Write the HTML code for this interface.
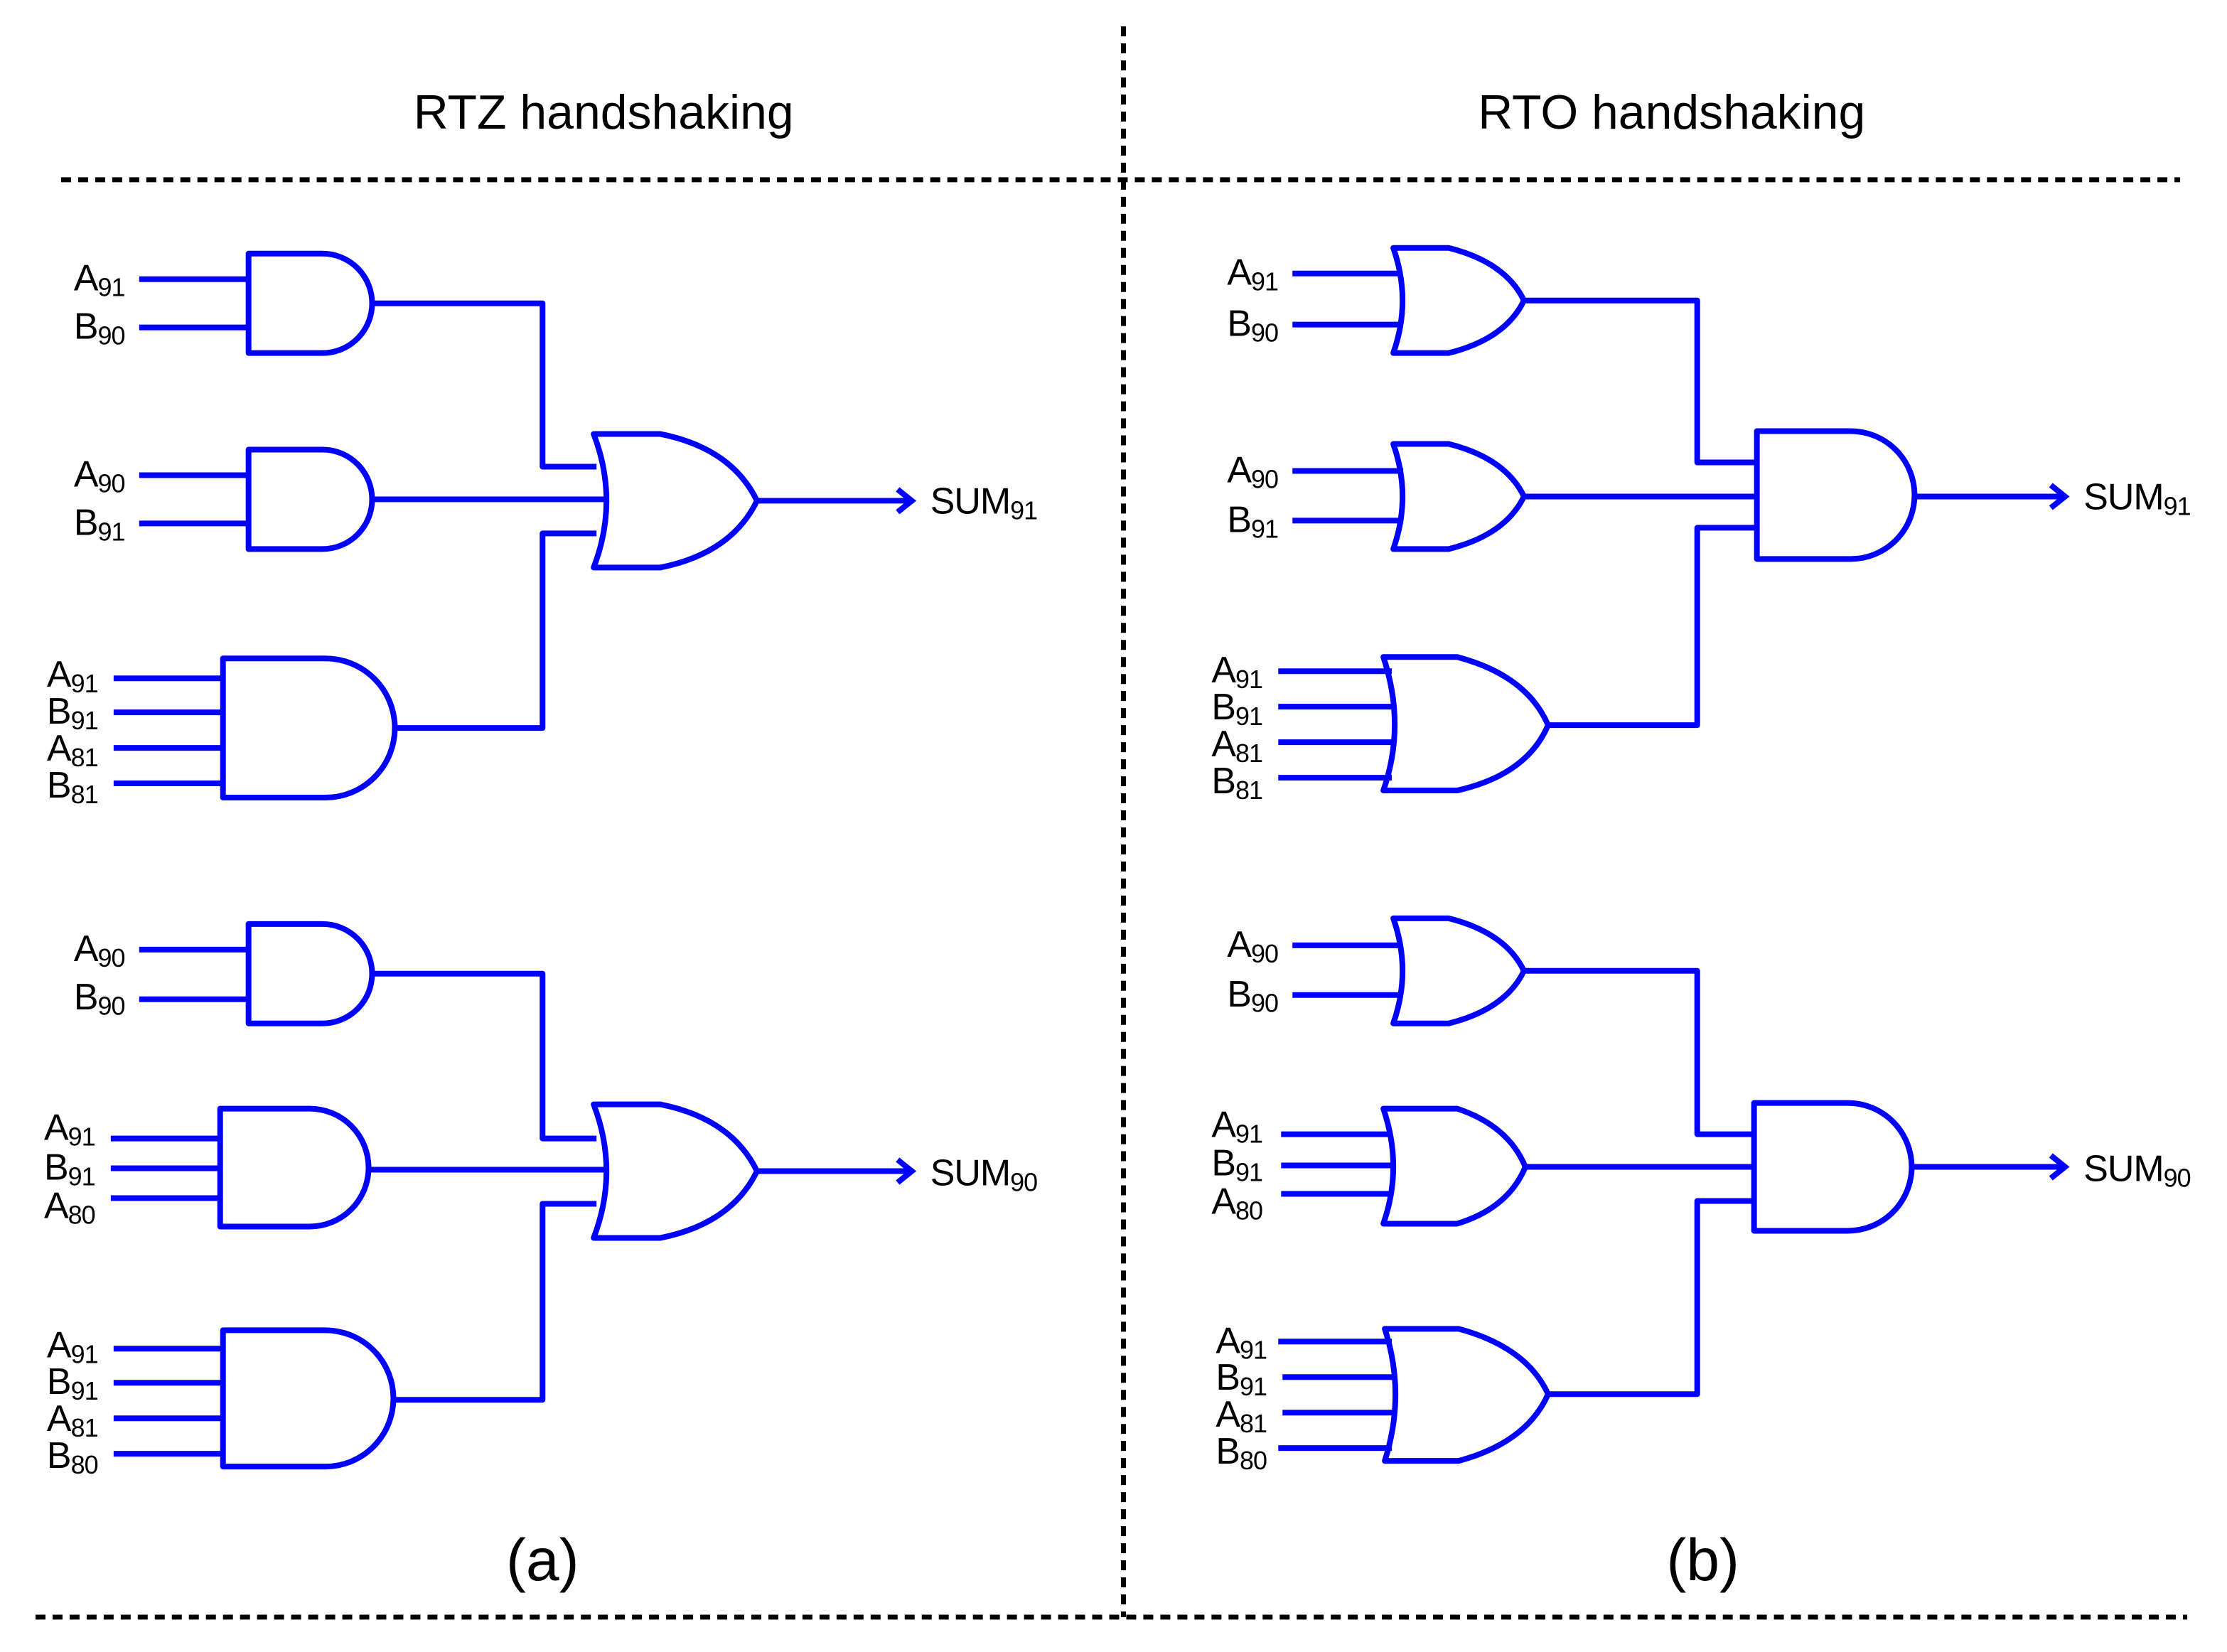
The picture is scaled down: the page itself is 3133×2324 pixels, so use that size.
<!DOCTYPE html>
<html><head><meta charset="utf-8"><style>
html,body{margin:0;padding:0;background:#fff;}
svg{display:block;}
text{font-family:"Liberation Sans",sans-serif;fill:#000;}
</style></head><body>
<svg width="3133" height="2324" viewBox="0 0 1568 1162" xmlns="http://www.w3.org/2000/svg">
<defs>
<marker id="ar" markerWidth="16" markerHeight="20" refX="12" refY="10" orient="auto" markerUnits="userSpaceOnUse">
<path d="M2,2 L12,10 L2,18" fill="none" stroke="#0000ff" stroke-width="4"/>
</marker>
</defs>
<g stroke="#000" stroke-width="3.5" stroke-dasharray="7,5" fill="none">
<line x1="791" y1="18" x2="791" y2="1138"/>
<line x1="43" y1="126" x2="1535" y2="126"/>
<line x1="25" y1="1138" x2="1540" y2="1138"/>
</g>
<text x="425" y="90" font-size="34" text-anchor="middle">RTZ handshaking</text>
<text x="1177" y="90" font-size="34" text-anchor="middle">RTO handshaking</text>
<text x="382" y="1112" font-size="42" text-anchor="middle">(a)</text>
<text x="1199" y="1112" font-size="42" text-anchor="middle">(b)</text>

<g stroke="#0000ff" stroke-width="4" fill="none" stroke-linejoin="round">
<path d="M175 178 H227 A35 35 0 0 1 227 248 H175 Z"/>
<path d="M98 196 H175 M98 230 H175"/>
<path d="M262 213 H382 V328 H420"/>
<path d="M175 316 H227 A35 35 0 0 1 227 386 H175 Z"/>
<path d="M98 334 H175 M98 368 H175"/>
<path d="M262 351 H427"/>
<path d="M157 463 H229 A49 49 0 0 1 229 561 H157 Z"/>
<path d="M80 477 H157 M80 501 H157 M80 526 H157 M80 551 H157"/>
<path d="M278 512 H382 V375 H420"/>
<path d="M418 305 H465 Q515 315 533 352 Q515 389 465 399 H418 Q436 352 418 305 Z"/>
<path d="M533 352 H642" marker-end="url(#ar)"/>
<path d="M175 650 H227 A35 35 0 0 1 227 720 H175 Z"/>
<path d="M98 668 H175 M98 703 H175"/>
<path d="M262 685 H382 V801 H420"/>
<path d="M155 780 H218 A41.5 41.5 0 0 1 218 863 H155 Z"/>
<path d="M78 801 H155 M78 822 H155 M78 843 H155"/>
<path d="M259 823 H427"/>
<path d="M157 936 H229 A48 48 0 0 1 229 1032 H157 Z"/>
<path d="M80 949 H157 M80 973 H157 M80 998 H157 M80 1023 H157"/>
<path d="M278 985 H382 V847 H420"/>
<path d="M418 777 H465 Q515 787 533 824 Q515 861 465 871 H418 Q436 824 418 777 Z"/>
<path d="M533 824 H642" marker-end="url(#ar)"/>
<path d="M981 174 H1020 Q1060 184 1073 211 Q1060 238 1020 248 H981 Q994 211 981 174 Z"/>
<path d="M910 192 H987 M910 228 H987"/>
<path d="M1073 211 H1195 V325 H1237"/>
<path d="M981 312 H1020 Q1060 322 1073 349 Q1060 376 1020 386 H981 Q994 349 981 312 Z"/>
<path d="M910 331 H988 M910 366 H988"/>
<path d="M1073 349 H1237"/>
<path d="M974 462 H1026 Q1075 475 1090 510 Q1075 545 1026 556 H974 Q990 510 974 462 Z"/>
<path d="M900 472 H980 M900 497 H983 M900 522 H983 M900 547 H980"/>
<path d="M1090 510 H1195 V371 H1237"/>
<path d="M1237 303 H1303 A45 45 0 0 1 1303 393 H1237 Z"/>
<path d="M1348 349 H1454" marker-end="url(#ar)"/>
<path d="M981 646 H1020 Q1060 656 1073 683 Q1060 710 1020 720 H981 Q994 683 981 646 Z"/>
<path d="M910 665 H987 M910 700 H987"/>
<path d="M1073 683 H1195 V798 H1235"/>
<path d="M974 780 H1026 Q1062 792 1074 821 Q1062 850 1026 861 H974 Q988 821 974 780 Z"/>
<path d="M902 798 H980 M902 820 H982 M902 840 H980"/>
<path d="M1074 821 H1235"/>
<path d="M975 935 H1027 Q1075 948 1090 981 Q1075 1015 1027 1028 H975 Q990 981 975 935 Z"/>
<path d="M900 944 H980 M903 969 H983 M903 994 H983 M900 1019 H980"/>
<path d="M1090 981 H1195 V845 H1235"/>
<path d="M1235 776 H1301 A45 45 0 0 1 1301 866 H1235 Z"/>
<path d="M1346 821 H1454" marker-end="url(#ar)"/>
</g>

<g font-size="26" style="letter-spacing:-0.5px">
<text x="52" y="204">A<tspan font-size="18" dy="4">91</tspan></text>
<text x="52" y="238">B<tspan font-size="18" dy="4">90</tspan></text>
<text x="52" y="342">A<tspan font-size="18" dy="4">90</tspan></text>
<text x="52" y="376">B<tspan font-size="18" dy="4">91</tspan></text>
<text x="33" y="483">A<tspan font-size="18" dy="4">91</tspan></text>
<text x="33" y="509">B<tspan font-size="18" dy="4">91</tspan></text>
<text x="33" y="535">A<tspan font-size="18" dy="4">81</tspan></text>
<text x="33" y="561">B<tspan font-size="18" dy="4">81</tspan></text>
<text x="655" y="361">SUM<tspan font-size="18" dy="4">91</tspan></text>
<text x="52" y="676">A<tspan font-size="18" dy="4">90</tspan></text>
<text x="52" y="710">B<tspan font-size="18" dy="4">90</tspan></text>
<text x="31" y="802">A<tspan font-size="18" dy="4">91</tspan></text>
<text x="31" y="830">B<tspan font-size="18" dy="4">91</tspan></text>
<text x="31" y="857">A<tspan font-size="18" dy="4">80</tspan></text>
<text x="33" y="955">A<tspan font-size="18" dy="4">91</tspan></text>
<text x="33" y="981">B<tspan font-size="18" dy="4">91</tspan></text>
<text x="33" y="1007">A<tspan font-size="18" dy="4">81</tspan></text>
<text x="33" y="1033">B<tspan font-size="18" dy="4">80</tspan></text>
<text x="655" y="834">SUM<tspan font-size="18" dy="4">90</tspan></text>
<text x="864" y="200">A<tspan font-size="18" dy="4">91</tspan></text>
<text x="864" y="236">B<tspan font-size="18" dy="4">90</tspan></text>
<text x="864" y="339">A<tspan font-size="18" dy="4">90</tspan></text>
<text x="864" y="374">B<tspan font-size="18" dy="4">91</tspan></text>
<text x="853" y="480">A<tspan font-size="18" dy="4">91</tspan></text>
<text x="853" y="506">B<tspan font-size="18" dy="4">91</tspan></text>
<text x="853" y="532">A<tspan font-size="18" dy="4">81</tspan></text>
<text x="853" y="558">B<tspan font-size="18" dy="4">81</tspan></text>
<text x="1467" y="358">SUM<tspan font-size="18" dy="4">91</tspan></text>
<text x="864" y="673">A<tspan font-size="18" dy="4">90</tspan></text>
<text x="864" y="708">B<tspan font-size="18" dy="4">90</tspan></text>
<text x="853" y="800">A<tspan font-size="18" dy="4">91</tspan></text>
<text x="853" y="827">B<tspan font-size="18" dy="4">91</tspan></text>
<text x="853" y="854">A<tspan font-size="18" dy="4">80</tspan></text>
<text x="856" y="952">A<tspan font-size="18" dy="4">91</tspan></text>
<text x="856" y="978">B<tspan font-size="18" dy="4">91</tspan></text>
<text x="856" y="1004">A<tspan font-size="18" dy="4">81</tspan></text>
<text x="856" y="1030">B<tspan font-size="18" dy="4">80</tspan></text>
<text x="1467" y="831">SUM<tspan font-size="18" dy="4">90</tspan></text>
</g>
</svg>
</body></html>
